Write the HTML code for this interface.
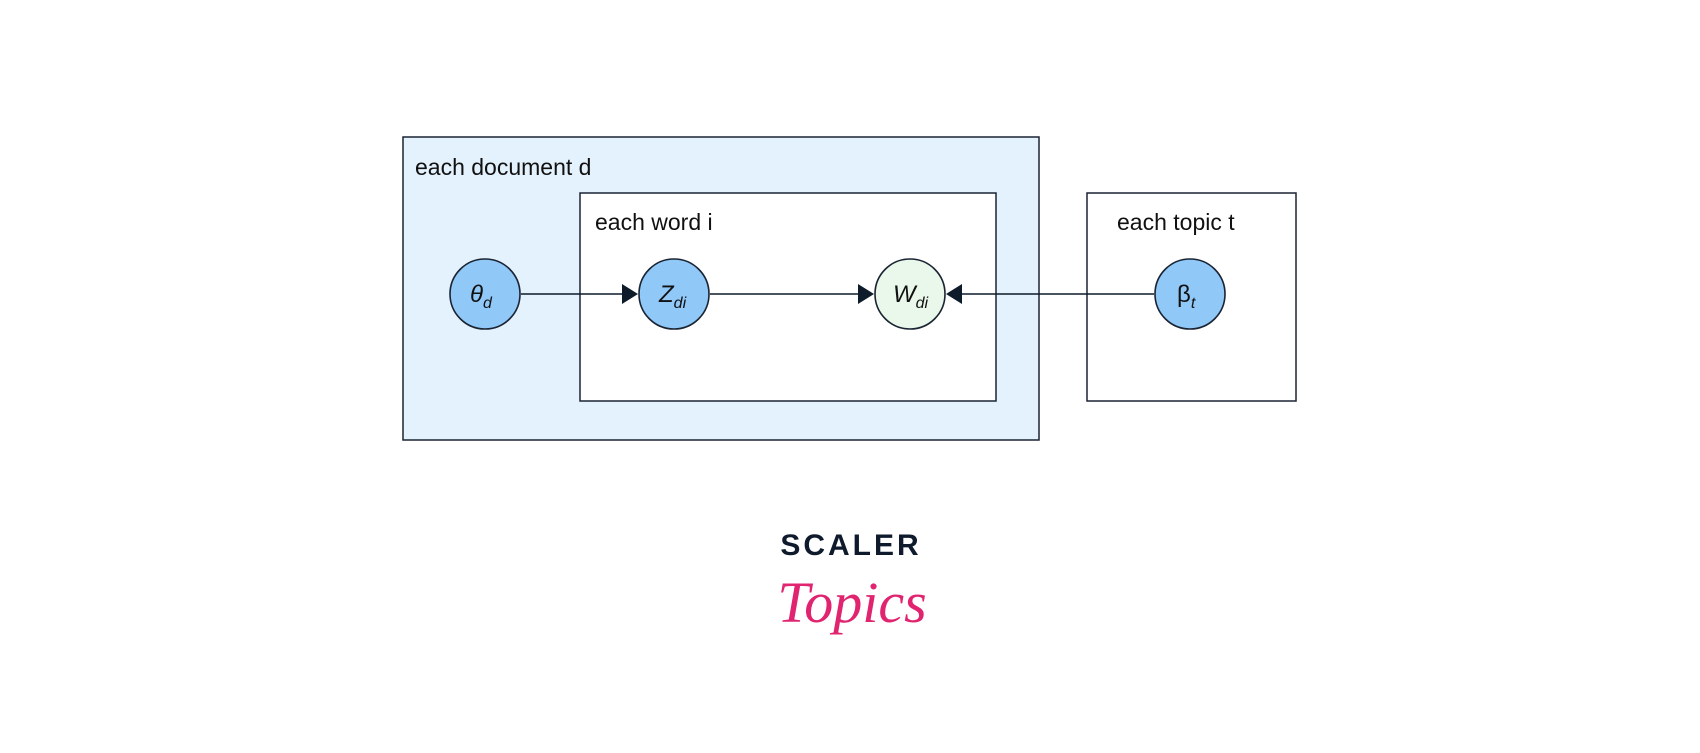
<!DOCTYPE html>
<html><head><style>
body{margin:0;background:#fff;width:1700px;height:748px;overflow:hidden}
</style></head><body>
<svg width="1700" height="748" xmlns="http://www.w3.org/2000/svg" font-family="'Liberation Sans', 'DejaVu Sans', sans-serif">
<rect x="403" y="137" width="636" height="303" fill="#e4f2fd" stroke="#1a2433" stroke-width="1.5"/>
<rect x="580" y="193" width="416" height="208" fill="#fff" stroke="#1a2433" stroke-width="1.5"/>
<rect x="1087" y="193" width="209" height="208" fill="#fff" stroke="#1a2433" stroke-width="1.5"/>
<text x="415" y="175" font-size="23" fill="#111">each document d</text>
<text x="595" y="230" font-size="23" fill="#111">each word i</text>
<text x="1117" y="230" font-size="23" fill="#111">each topic t</text>
<g stroke="#0d1b2a" stroke-width="1.6">
<line x1="521" y1="294" x2="624" y2="294"/>
<line x1="710" y1="294" x2="860" y2="294"/>
<line x1="960" y1="294" x2="1154" y2="294"/>
</g>
<g fill="#0d1b2a">
<polygon points="638,294 622,284 622,304"/>
<polygon points="874,294 858,284 858,304"/>
<polygon points="946,294 962,284 962,304"/>
</g>
<g stroke="#1a2433" stroke-width="1.6">
<circle cx="485" cy="294" r="35" fill="#90c8f8"/>
<circle cx="674" cy="294" r="35" fill="#90c8f8"/>
<circle cx="910" cy="294" r="35" fill="#e9f8ea"/>
<circle cx="1190" cy="294" r="35" fill="#90c8f8"/>
</g>
<g font-size="24" fill="#111" font-style="italic">
<text x="470" y="302">θ<tspan font-size="16" dy="6">d</tspan></text>
<text x="659" y="302">Z<tspan font-size="16" dy="6">di</tspan></text>
<text x="893" y="302">W<tspan font-size="16" dy="6">di</tspan></text>
<text x="1177" y="302" font-style="normal">β<tspan font-size="16" dy="6" font-style="italic">t</tspan></text>
</g>
<text x="851" y="555" font-size="30" font-weight="bold" fill="#0f1b2d" text-anchor="middle" letter-spacing="3">SCALER</text>
<text x="852" y="622" font-size="58" font-style="italic" font-family="'Liberation Serif', serif" fill="#e0246f" text-anchor="middle">Topics</text>
</svg>
</body></html>
